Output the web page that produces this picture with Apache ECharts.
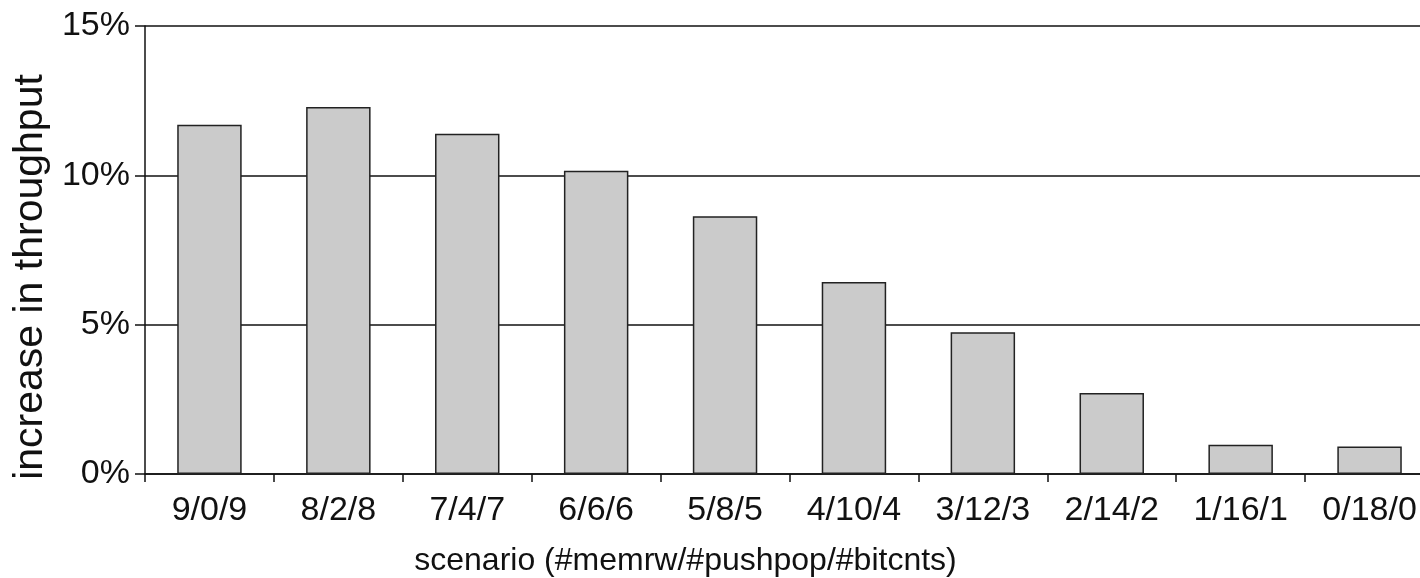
<!DOCTYPE html>
<html>
<head>
<meta charset="utf-8">
<script src="https://cdn.jsdelivr.net/npm/echarts@6/dist/echarts.min.js"></script>
<style>
html,body{margin:0;padding:0;background:#fff;}
#chart{width:1420px;height:578px;}
</style>
</head>
<body>
<div id="chart"></div>
<script>
const categories = ['9/0/9','8/2/8','7/4/7','6/6/6','5/8/5','4/10/4','3/12/3','2/14/2','1/16/1','0/18/0'];
const throughputIncrease = [11.69, 12.29, 11.39, 10.15, 8.63, 6.43, 4.75, 2.71, 0.98, 0.92];
const yTicks = { min: 0, max: 15, interval: 5 };
const xTitle = 'scenario (#memrw/#pushpop/#bitcnts)';
const yTitle = 'increase in throughput';

const FONT = '"Liberation Sans", Arial, Helvetica, sans-serif';
const chart = echarts.init(document.getElementById('chart'), null, {renderer:'canvas'});
chart.setOption({
  backgroundColor: '#ffffff',
  animation: false,
  grid: { left: 145, top: 26, width: 1289, height: 448, containLabel: false, outerBoundsMode: 'none' },
  xAxis: {
    type: 'category',
    data: categories,
    boundaryGap: true,
    name: xTitle,
    nameLocation: 'middle',
    nameGap: 71,
    nameTextStyle: { fontFamily: FONT, fontSize: 32, color: '#111', padding: [0, 208, 0, 0] },
    axisLine: { show: true, lineStyle: { color: '#111', width: 1.5 } },
    axisTick: { show: true, alignWithLabel: false, length: 8, lineStyle: { color: '#111', width: 1.5 } },
    axisLabel: { fontFamily: FONT, fontSize: 34, color: '#111', margin: 20, interval: 0 },
    splitLine: { show: false }
  },
  yAxis: {
    type: 'value',
    min: yTicks.min, max: yTicks.max, interval: yTicks.interval,
    name: yTitle,
    nameLocation: 'middle',
    nameGap: 92,
    nameRotate: 90,
    nameTextStyle: { fontFamily: FONT, fontSize: 41, color: '#111', padding: [0, 54, 0, 0] },
    axisLine: { show: true, lineStyle: { color: '#111', width: 1.5 } },
    axisTick: { show: true, length: 10, lineStyle: { color: '#111', width: 1.5 } },
    axisLabel: { fontFamily: FONT, fontSize: 34, color: '#111', margin: 15, formatter: '{value}%' },
    splitLine: { show: true, lineStyle: { color: '#111', width: 1.5 } }
  },
  series: [{
    type: 'bar',
    data: throughputIncrease,
    barWidth: '50%',
    itemStyle: { color: '#cbcbcb', borderColor: '#222', borderWidth: 1.5 }
  }]
});
</script>
</body>
</html>
